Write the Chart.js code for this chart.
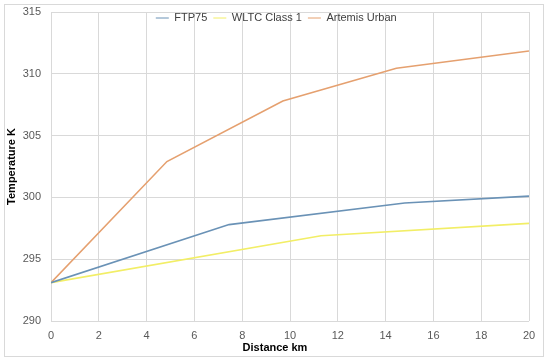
<!DOCTYPE html>
<html>
<head>
<meta charset="utf-8">
<script src="https://cdn.jsdelivr.net/npm/chart.js@4"></script>
<style>
  body { margin: 0; background: #fff; }
  #wrap { position: relative; width: 550px; height: 361px; }
  #frame { position: absolute; left: 4px; top: 4px; width: 538px; height: 351px; border: 1px solid #d9d9d9; pointer-events: none; }
</style>
</head>
<body>
<div id="wrap">
  <canvas id="tempChart" width="550" height="361"></canvas>
  <div id="frame"></div>
</div>
<script>
// values
const ftpDist = [0, 7.45, 14.8, 20];
const ftpTemp = [293.1, 297.8, 299.55, 300.1];
const wltcDist = [0, 11.3, 20];
const wltcTemp = [293.1, 296.9, 297.9];
const artemisDist = [0, 4.85, 9.7, 14.45, 20];
const artemisTemp = [293.1, 302.9, 307.8, 310.45, 311.85];
const xTicks = [0, 2, 4, 6, 8, 10, 12, 14, 16, 18, 20];
const yTicks = [290, 295, 300, 305, 310, 315];

const toPoints = (xs, ys) => xs.map((x, i) => ({ x: x, y: ys[i] }));

const FONT = "'Liberation Sans', Arial, sans-serif";

// legend sits inside the plot, centered on the whole canvas
const legendFix = {
    id: 'legendFix',
    beforeLayout(chart) {
        const lg = chart.legend;
        if (lg && !lg._wrapped) {
            const orig = lg.fit.bind(lg);
            lg.fit = function () { orig(); this.height = 0; };
            lg._wrapped = true;
        }
    },
    afterLayout(chart) {
        const lg = chart.legend;
        lg.left = 2.5;
        lg.right = chart.width;
        lg.top = 6.5;
        lg.bottom = 36;
    },
    afterDraw(chart) {
        // x axis title, centered on the canvas like the original
        const ctx = chart.ctx;
        ctx.save();
        ctx.font = "bold 11px " + FONT;
        ctx.fillStyle = '#000';
        ctx.textAlign = 'center';
        ctx.textBaseline = 'middle';
        ctx.fillText('Distance km', 275, 348);
        ctx.restore();
    }
};

const ctx = document.getElementById('tempChart').getContext('2d');

new Chart(ctx, {
    type: 'line',
    data: {
        datasets: [{
            label: 'FTP75',
            data: toPoints(ftpDist, ftpTemp),
            borderColor: '#6a92b6',
            backgroundColor: '#6a92b6',
        }, {
            label: 'WLTC Class 1',
            data: toPoints(wltcDist, wltcTemp),
            borderColor: '#f2ee66',
            backgroundColor: '#f2ee66',
        }, {
            label: 'Artemis Urban',
            data: toPoints(artemisDist, artemisTemp),
            borderColor: '#e5a06f',
            backgroundColor: '#e5a06f',
        }],
    },
    options: {
        responsive: false,
        animation: false,
        layout: {
            padding: { top: 12, right: 21, bottom: 0, left: 0 },
        },
        elements: {
            line: { borderWidth: 1.6, tension: 0 },
            point: { radius: 0 },
        },
        plugins: {
            tooltip: { enabled: false },
            legend: {
                position: 'top',
                labels: {
                    usePointStyle: true,
                    pointStyle: 'line',
                    pointStyleWidth: 13,
                    padding: 6,
                    color: '#404040',
                    font: { family: FONT, size: 11 },
                },
            },
        },
        scales: {
            x: {
                type: 'linear',
                min: 0,
                max: 20,
                afterBuildTicks: (axis) => { axis.ticks = xTicks.map(v => ({ value: v })); },
                afterFit: (axis) => { axis.height = 40; axis.paddingLeft = 0; axis.paddingRight = 0; },
                grid: { color: '#d9d9d9', drawTicks: false },
                border: { display: false },
                ticks: {
                    padding: 8,
                    color: '#595959',
                    font: { family: FONT, size: 11 },
                },
            },
            y: {
                min: 290,
                max: 315,
                afterBuildTicks: (axis) => { axis.ticks = yTicks.map(v => ({ value: v })); },
                afterFit: (axis) => { axis.width = 51; axis.paddingTop = 0; axis.paddingBottom = 0; },
                grid: { color: '#d9d9d9', drawTicks: false },
                border: { display: false },
                ticks: {
                    padding: 10,
                    color: '#595959',
                    font: { family: FONT, size: 11 },
                },
                title: {
                    display: true,
                    text: 'Temperature K',
                    color: '#000',
                    font: { family: FONT, size: 11, weight: 'bold' },
                    padding: { top: 5, bottom: 0 },
                },
            },
        },
    },
    plugins: [legendFix],
});
</script>
</body>
</html>
